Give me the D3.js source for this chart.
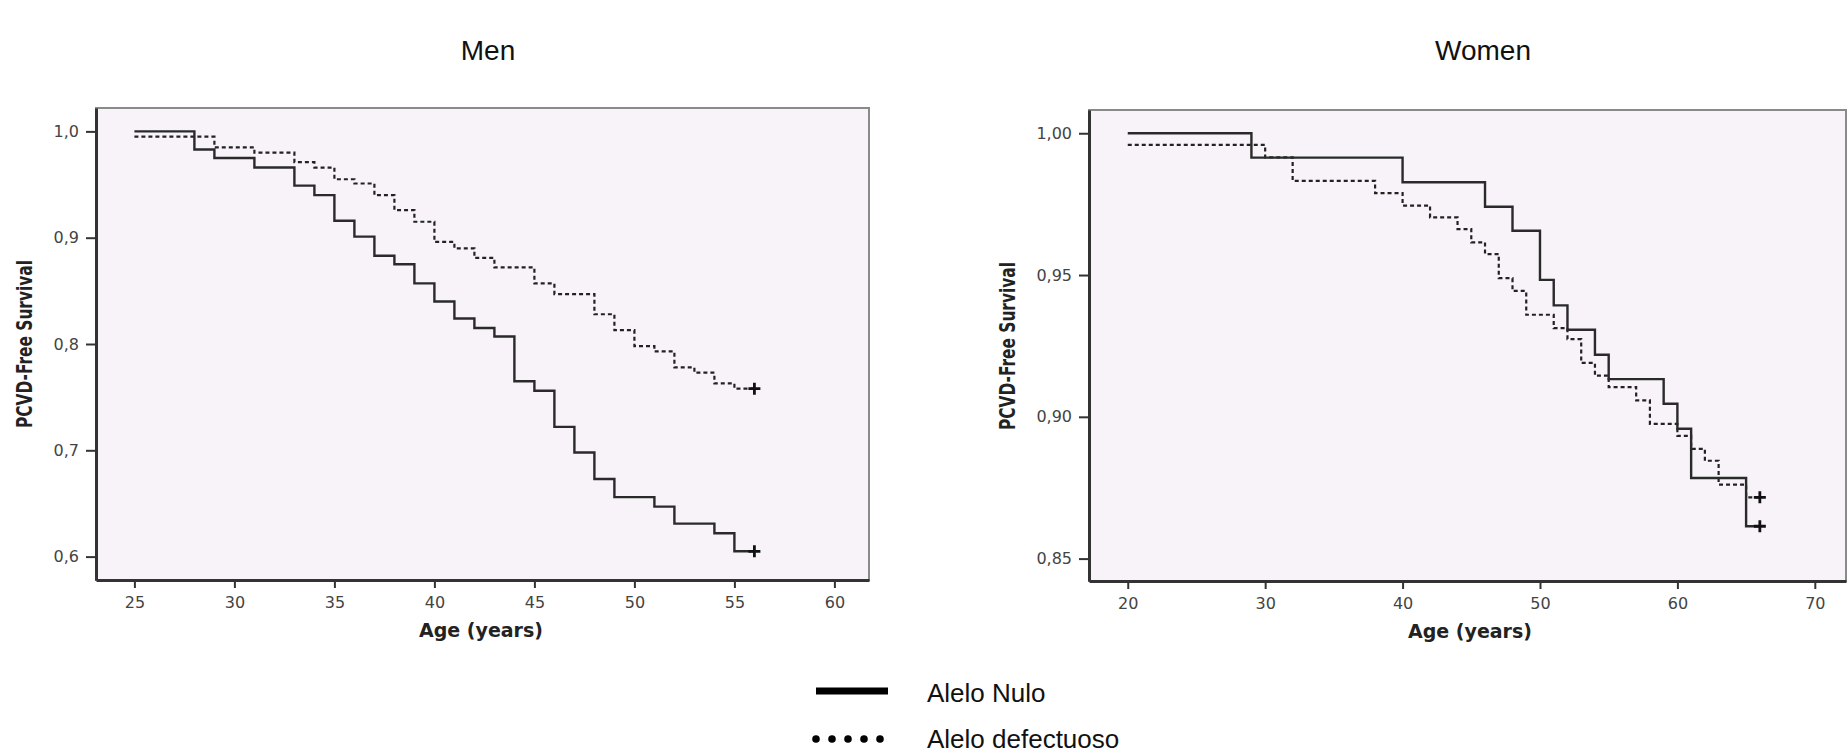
<!DOCTYPE html>
<html>
<head>
<meta charset="utf-8">
<script src="https://cdn.jsdelivr.net/npm/d3@7"></script>
<style>
  body { margin: 0; background: #fff; }
  svg { display: block; }
</style>
</head>
<body>
<div id="chart"></div>
<script>
// ---- data ----
var menNuloAge  = [25, 28, 29, 31, 33, 34, 35, 36, 37, 38, 39, 40, 41, 42, 43, 44, 45, 46, 47, 48, 49, 51, 52, 54, 55, 56];
var menNuloSurv = [1.000, 0.983, 0.975, 0.966, 0.949, 0.940, 0.916, 0.901, 0.883, 0.875, 0.857, 0.840, 0.824, 0.815, 0.807, 0.765, 0.756, 0.722, 0.698, 0.673, 0.656, 0.647, 0.631, 0.622, 0.605, 0.605];

var menDefAge  = [25, 29, 31, 33, 34, 35, 36, 37, 38, 39, 40, 41, 42, 43, 45, 46, 48, 49, 50, 51, 52, 53, 54, 55, 56];
var menDefSurv = [0.995, 0.985, 0.980, 0.971, 0.966, 0.955, 0.951, 0.940, 0.926, 0.915, 0.896, 0.890, 0.881, 0.872, 0.857, 0.847, 0.828, 0.813, 0.798, 0.793, 0.778, 0.773, 0.763, 0.758, 0.758];

var womenNuloAge  = [20, 29, 40, 46, 48, 50, 51, 52, 54, 55, 59, 60, 61, 65, 66];
var womenNuloSurv = [1.000, 0.9914, 0.9827, 0.9741, 0.9656, 0.9483, 0.9393, 0.9307, 0.9219, 0.9133, 0.9046, 0.8958, 0.8784, 0.8614, 0.8614];

var womenDefAge  = [20, 30, 32, 38, 40, 42, 44, 45, 46, 47, 48, 49, 51, 52, 53, 54, 55, 57, 58, 60, 61, 62, 63, 65, 66];
var womenDefSurv = [0.9959, 0.9915, 0.9832, 0.9789, 0.9745, 0.9703, 0.9662, 0.9615, 0.9574, 0.9489, 0.9444, 0.9360, 0.9313, 0.9274, 0.9190, 0.9145, 0.9105, 0.9058, 0.8975, 0.8933, 0.8887, 0.8845, 0.8761, 0.8716, 0.8716];

var menXTicks = [25, 30, 35, 40, 45, 50, 55, 60];
var menYTicks = [0.6, 0.7, 0.8, 0.9, 1.0];
var womenXTicks = [20, 30, 40, 50, 60, 70];
var womenYTicks = [0.85, 0.90, 0.95, 1.00];

var panelTitles = ['Men', 'Women'];
var xLabel = 'Age (years)';
var yLabel = 'PCVD-Free Survival';
var legendLabels = ['Alelo Nulo', 'Alelo defectuoso'];

var W = 1848, H = 752;
var bg = '#f7f3f8';
var locale = d3.formatLocale({decimal: ',', thousands: '.', grouping: [3], currency: ['', '']});

var svg = d3.select('#chart').append('svg')
    .attr('width', W)
    .attr('height', H);

function zip(a, b){
    return a.map(function(d, i){ return [d, b[i]]; });
}

function drawPanel(opts){
    var w = opts.width, h = opts.height;
    var g = svg.append('g')
        .attr('transform', 'translate(' + opts.left + ',' + opts.top + ')');

    var x = d3.scaleLinear().domain(opts.xDomain).range([0, w]);
    var y = d3.scaleLinear().domain(opts.yDomain).range([h, 0]);

    // frame
    g.append('rect')
        .attr('x', 0).attr('y', 0)
        .attr('width', w).attr('height', h)
        .attr('fill', bg)
        .attr('stroke', '#8a8a8a')
        .attr('stroke-width', 2);

    var line = d3.line()
        .x(function(d){ return x(d[0]); })
        .y(function(d){ return y(d[1]); })
        .curve(d3.curveStepAfter);

    // defectuoso (dashed)
    g.append('path')
        .datum(zip(opts.defAge, opts.defSurv))
        .attr('d', line)
        .attr('fill', 'none')
        .attr('stroke', '#222')
        .attr('stroke-width', 2.2)
        .attr('stroke-dasharray', '4,3');

    // nulo (solid)
    g.append('path')
        .datum(zip(opts.nuloAge, opts.nuloSurv))
        .attr('d', line)
        .attr('fill', 'none')
        .attr('stroke', '#2a2a2a')
        .attr('stroke-width', 2.4);

    // censor marks
    var ends = [
        [opts.nuloAge[opts.nuloAge.length - 1], opts.nuloSurv[opts.nuloSurv.length - 1]],
        [opts.defAge[opts.defAge.length - 1], opts.defSurv[opts.defSurv.length - 1]]
    ];
    g.selectAll('.censor')
        .data(ends)
        .enter()
        .append('path')
            .attr('class', 'censor')
            .attr('d', function(d){
                var cx = x(d[0]), cy = y(d[1]);
                return 'M' + (cx - 6) + ',' + cy + 'H' + (cx + 6) + 'M' + cx + ',' + (cy - 6) + 'V' + (cy + 6);
            })
            .attr('stroke', '#111')
            .attr('stroke-width', 2.8);

    // axes
    var xAxis = d3.axisBottom(x).tickValues(opts.xTicks).tickSize(8).tickSizeOuter(0).tickPadding(9);
    var yAxis = d3.axisLeft(y).tickValues(opts.yTicks).tickSize(10).tickSizeOuter(0).tickPadding(7)
        .tickFormat(locale.format(opts.yFormat));

    var gx = g.append('g')
        .attr('transform', 'translate(0,' + h + ')')
        .call(xAxis);
    var gy = g.append('g').call(yAxis);

    [gx, gy].forEach(function(a){
        a.select('.domain').attr('stroke', '#333').attr('stroke-width', 3);
        a.selectAll('.tick line').attr('stroke', '#333').attr('stroke-width', 2);
        a.selectAll('.tick text')
            .attr('fill', '#444')
            .style('font-family', 'DejaVu Sans, sans-serif')
            .style('font-size', '16px');
    });

    // labels
    g.append('text')
        .attr('x', opts.xLabelX)
        .attr('y', h + 57)
        .attr('text-anchor', 'middle')
        .style('font-family', 'DejaVu Sans, sans-serif')
        .style('font-weight', 'bold')
        .style('font-size', '19px')
        .attr('fill', '#222')
        .text(xLabel);

    g.append('text')
        .attr('transform', 'translate(' + opts.yLabelX + ',' + opts.yLabelY + ') rotate(-90)')
        .attr('text-anchor', 'middle')
        .attr('dy', '0.35em')
        .attr('textLength', 168)
        .attr('lengthAdjust', 'spacingAndGlyphs')
        .style('font-family', '"Liberation Sans Narrow", "DejaVu Sans Condensed", sans-serif')
        .style('font-weight', 'bold')
        .style('font-size', '21px')
        .attr('fill', '#222')
        .text(yLabel);

    svg.append('text')
        .attr('x', opts.titleX)
        .attr('y', 60)
        .attr('text-anchor', 'middle')
        .style('font-family', '"Liberation Sans", Arial, sans-serif')
        .style('font-size', '28px')
        .attr('fill', '#111')
        .text(opts.title);
}

drawPanel({
    left: 96, top: 108, width: 773, height: 472,
    xDomain: [23.08, 61.73], yDomain: [0.578, 1.022],
    xTicks: menXTicks, yTicks: menYTicks, yFormat: '.1f',
    nuloAge: menNuloAge, nuloSurv: menNuloSurv,
    defAge: menDefAge, defSurv: menDefSurv,
    xLabelX: 385, yLabelX: -71, yLabelY: 236,
    title: panelTitles[0], titleX: 488
});

drawPanel({
    left: 1089, top: 110, width: 757, height: 471,
    xDomain: [17.18, 72.27], yDomain: [0.8421, 1.0082],
    xTicks: womenXTicks, yTicks: womenYTicks, yFormat: '.2f',
    nuloAge: womenNuloAge, nuloSurv: womenNuloSurv,
    defAge: womenDefAge, defSurv: womenDefSurv,
    xLabelX: 381, yLabelX: -81, yLabelY: 236,
    title: panelTitles[1], titleX: 1483
});

// legend
var legend = svg.append('g');
legend.append('line')
    .attr('x1', 816).attr('x2', 888)
    .attr('y1', 691).attr('y2', 691)
    .attr('stroke', '#000')
    .attr('stroke-width', 7);

legend.selectAll('circle')
    .data(d3.range(5))
    .enter()
    .append('circle')
        .attr('cx', function(d){ return 816 + d * 16; })
        .attr('cy', 739)
        .attr('r', 3.8)
        .attr('fill', '#000');

legend.selectAll('text')
    .data(legendLabels)
    .enter()
    .append('text')
        .attr('x', 927)
        .attr('y', function(d, i){ return 693 + i * 46; })
        .attr('dy', '0.35em')
        .style('font-family', '"Liberation Sans", Arial, sans-serif')
        .style('font-size', '26px')
        .attr('fill', '#111')
        .text(function(d){ return d; });
</script>
</body>
</html>
